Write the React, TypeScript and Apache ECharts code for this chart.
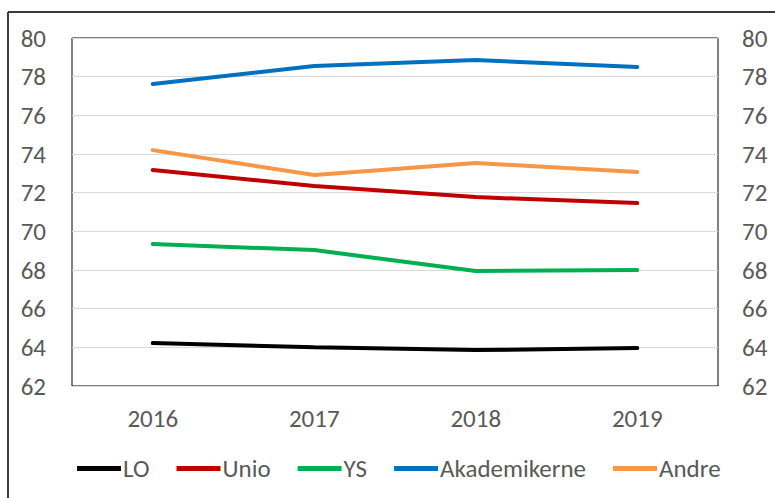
import React, { useEffect, useRef } from "react";
import * as echarts from "echarts";

const years = ["2016", "2017", "2018", "2019"];
const lo = [64.22, 64.0, 63.86, 63.96];
const unio = [73.17, 72.34, 71.77, 71.46];
const ys = [69.34, 69.03, 67.95, 68.0];
const akademikerne = [77.62, 78.55, 78.86, 78.5];
const andre = [74.2, 72.91, 73.53, 73.07];

const FONT = 'Carlito, "Liberation Sans Narrow", "Open Sans", sans-serif';

export default function App() {
  const ref = useRef<HTMLDivElement>(null);
  useEffect(() => {
    const chart = echarts.init(ref.current!, undefined, { renderer: "svg" });
    const mk = (name: string, data: number[], color: string) => ({
      name,
      type: "line",
      data,
      symbol: "none",
      lineStyle: { width: 4, color, cap: "round" },
      itemStyle: { color },
      yAxisIndex: 0,
    });
    chart.setOption({
      animation: false,
      textStyle: { fontFamily: FONT },
      graphic: [
        { type: "line", shape: { x1: 8, y1: 12, x2: 775, y2: 12 }, style: { stroke: "#3a3a3a", lineWidth: 2 } },
        { type: "line", shape: { x1: 8, y1: 12, x2: 8, y2: 498 }, style: { stroke: "#3a3a3a", lineWidth: 2 } },
      ],
      grid: { left: 72, right: 57, top: 38, bottom: 112, show: true, borderColor: "#000", borderWidth: 1, containLabel: false },
      legend: {
        top: 451,
        left: 72,
        icon: "rect",
        itemWidth: 44,
        itemHeight: 5,
        itemGap: 27,
        textStyle: { fontSize: 25, color: "#595959", fontFamily: FONT, padding: [0, 0, 0, -3] },
        data: ["LO", "Unio", "YS", "Akademikerne", "Andre"],
      },
      xAxis: {
        type: "category",
        data: years,
        boundaryGap: true,
        axisLine: { show: false },
        axisTick: { show: false },
        axisLabel: { fontSize: 25, color: "#595959", margin: 20, fontFamily: FONT },
      },
      yAxis: [
        {
          type: "value",
          min: 62,
          max: 80,
          interval: 2,
          position: "left",
          axisLine: { show: false },
          axisTick: { show: false },
          splitLine: { lineStyle: { color: "#d9d9d9", width: 1 } },
          axisLabel: { fontSize: 25, color: "#595959", margin: 26, fontFamily: FONT },
        },
        {
          type: "value",
          min: 62,
          max: 80,
          interval: 2,
          position: "right",
          axisLine: { show: false },
          axisTick: { show: false },
          splitLine: { show: false },
          axisLabel: { fontSize: 25, color: "#595959", margin: 24, fontFamily: FONT },
        },
      ],
      series: [
        mk("LO", lo, "#000000"),
        mk("Unio", unio, "#C00000"),
        mk("YS", ys, "#00B050"),
        mk("Akademikerne", akademikerne, "#0070C0"),
        mk("Andre", andre, "#F79646"),
      ],
    });
    return () => chart.dispose();
  }, []);
  return <div ref={ref} style={{ position: "fixed", left: 0, top: 0, width: 775, height: 498, background: "#fff" }} />;
}
